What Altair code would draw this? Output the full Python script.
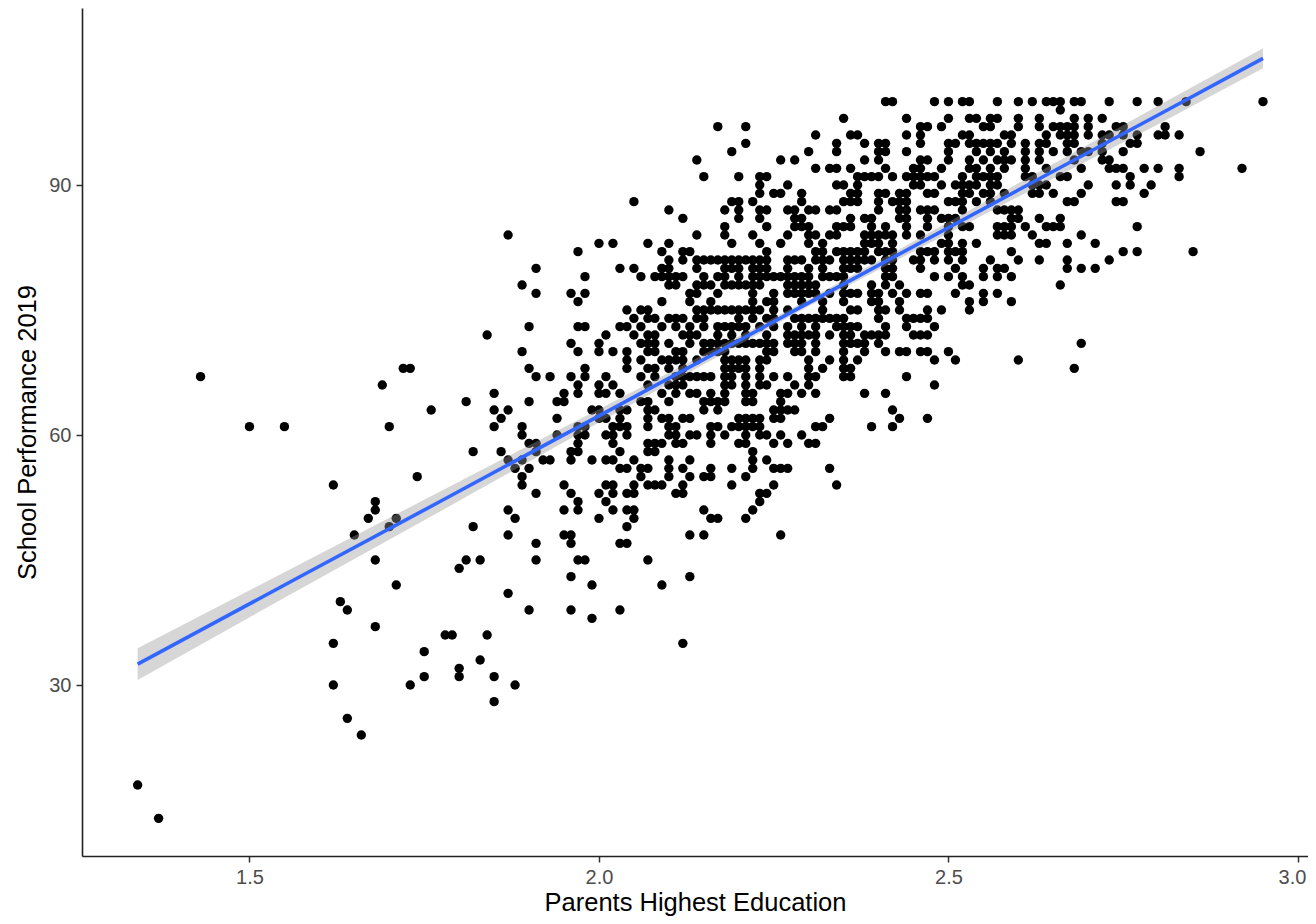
import altair as alt
import pandas as pd

# Parents' education (x 100) of the schools at each School Performance score
score_100 = [241,242,248,250,252,253,257,260,262,264,265,266,268,269,273,277,280,284,295]
score_99 = [266]
score_98 = [235,244,250,253,254,256,257,260,263,268,270,272]
score_97 = [217,221,246,247,249,255,256,260,263,265,266,267,268,270,274,275,281]
score_96 = [231,236,237,244,246,252,253,258,259,264,266,267,268,270,272,273,275,277,280,281,283]
score_95 = [221,234,238,240,241,246,250,251,253,254,255,256,257,259,261,263,264,267,268,272,276,277]
score_94 = [219,230,234,240,241,244,250,254,256,258,261,263,265,267,269,270,272,275,286]
score_93 = [214,226,228,238,240,246,247,250,253,255,257,258,259,261,263,268,272,273]
score_92 = [231,233,234,236,241,245,246,249,253,254,256,258,261,264,269,273,274,275,278,280,283,292]
score_91 = [215,220,223,224,237,238,239,240,242,244,245,246,247,248,252,254,255,256,257,261,262,266,267,276,283]
score_90 = [223,227,234,235,237,245,246,249,251,252,253,254,256,257,262,263,264,270,274,276,279]
score_89 = [223,225,226,229,236,237,240,241,243,244,247,248,252,253,255,256,258,262,263,265,269,278]
score_88 = [205,219,220,222,229,235,236,237,240,242,243,244,250,251,252,254,256,267,268,274,275]
score_87 = [210,218,220,223,224,227,228,230,231,233,234,240,243,244,246,247,248,252,257,258,259,260]
score_86 = [212,220,223,228,229,236,238,239,243,244,247,249,250,251,259,260,263,266]
score_85 = [218,224,228,229,230,234,235,236,239,241,244,247,250,252,253,257,258,259,261,264,265,266,277]
score_84 = [187,214,218,222,227,230,231,233,234,238,239,240,241,242,244,246,250,257,258,259,262,269]
score_83 = [200,202,207,210,219,223,226,230,232,238,239,240,242,249,250,252,254,263,264,267,271]
score_82 = [197,209,212,213,224,231,232,234,235,236,237,238,240,241,242,246,247,248,250,251,252,259,275,277,285]
score_81 = [210,212,214,215,216,217,218,219,220,221,222,223,224,227,228,229,231,232,233,235,236,237,238,239,241,242,245,246,248,250,252,256,260,263,267,273]
score_80 = [191,203,205,209,210,214,218,219,220,222,223,224,227,230,232,235,236,237,241,242,246,251,255,257,258,267,269,271]
score_79 = [198,206,208,209,210,211,212,215,217,218,220,222,223,224,225,226,227,228,229,230,232,233,234,235,241,242,248,250,252,255,257,259]
score_78 = [189,210,211,214,215,216,218,219,220,221,222,223,227,228,229,230,231,235,239,241,243,252,253,266]
score_77 = [191,196,198,213,214,217,222,225,227,228,229,230,231,233,235,236,237,239,240,242,244,246,247,251,255,257]
score_76 = [197,209,213,216,222,224,225,229,232,235,239,240,243,253,255,259]
score_75 = [204,206,207,214,215,216,217,218,219,220,221,222,223,225,227,232,236,237,240,241,243,247,249,253]
score_74 = [205,207,208,210,211,212,214,215,220,222,224,225,228,229,230,231,232,233,234,235,240,244,245,246,247]
score_73 = [190,197,198,203,204,206,209,211,213,215,217,218,219,220,221,223,225,227,229,231,234,235,236,237,241,244,248]
score_72 = [184,201,205,207,208,212,213,214,217,219,221,224,227,228,229,230,231,233,235,236,238,239,240,241,245,246,247]
score_71 = [196,200,206,207,208,210,213,215,216,217,218,219,220,221,222,223,224,225,227,228,229,231,235,236,237,238,240,269]
score_70 = [189,197,200,202,204,207,208,211,212,215,216,217,218,224,225,228,229,231,235,238,241,243,244,246,247,250]
score_69 = [204,206,209,210,211,212,214,218,219,220,221,223,224,230,233,235,237,248,251,260]
score_68 = [172,173,190,198,204,207,208,210,212,218,219,220,221,223,230,232,235,236,268]
score_67 = [143,191,193,196,198,201,206,208,211,212,213,214,215,216,218,219,221,223,225,227,230,231,235,236,244]
score_66 = [169,197,200,202,207,210,211,212,218,219,221,223,224,228,230,248]
score_65 = [185,195,197,200,201,203,209,211,213,214,216,218,221,222,226,227,229,231,238,241]
score_64 = [181,190,194,195,206,207,210,215,216,217,218,221,222,226]
score_63 = [176,185,187,199,200,203,204,207,208,215,217,225,226,227,228,242]
score_62 = [186,194,200,201,203,207,209,210,212,213,220,221,222,223,225,226,233,243,247]
score_61 = [150,155,170,185,189,197,198,202,203,204,207,210,211,216,217,219,220,221,222,223,231,232,239,242]
score_60 = [189,194,197,198,201,202,204,210,211,213,214,216,218,221,223,224,226,229]
score_59 = [190,191,197,202,207,208,209,211,212,216,220,221,225,227,230,231]
score_58 = [182,186,191,196,197,203,207,208,222]
score_57 = [187,189,192,193,196,199,201,202,205,210,213,222,224]
score_56 = [188,190,203,204,206,207,210,212,216,219,222,225,226,227,233]
score_55 = [174,189,206,210,213,215,216,221]
score_54 = [162,189,195,201,202,205,207,208,209,212,219,225,234]
score_53 = [191,196,200,202,204,205,211,212,223,224]
score_52 = [168,197,201,223]
score_51 = [168,187,195,197,202,204,205,215,222]
score_50 = [167,171,188,200,205,216,217,221]
score_49 = [170,182,204]
score_48 = [165,187,195,196,213,215,226]
score_47 = [191,196,203,204]
score_45 = [168,181,183,191,197,198,207]
score_44 = [180]
score_43 = [196,213]
score_42 = [171,199,209]
score_41 = [187]
score_40 = [163]
score_39 = [164,190,196,203]
score_38 = [199]
score_37 = [168]
score_36 = [178,179,184]
score_35 = [162,212]
score_34 = [175]
score_33 = [183]
score_32 = [180]
score_31 = [175,180,185]
score_30 = [162,173,188]
score_28 = [185]
score_26 = [164]
score_24 = [166]
score_18 = [134]
score_14 = [137]

# Fitted line and its confidence band
fit_x = [1.34, 1.57, 1.77, 2.0, 2.29, 2.6, 2.8, 2.95]
fit_y = [32.5, 42.9, 51.9, 62.3, 75.4, 89.4, 98.4, 105.2]
fit_lo = [30.6, 41.4, 50.7, 61.5, 75.0, 88.6, 97.3, 104.0]
fit_hi = [34.4, 44.4, 53.1, 63.1, 75.8, 90.2, 99.5, 106.4]

x_ticks = [1.5, 2.0, 2.5, 3.0]
y_ticks = [30, 60, 90]

rows = []
for name, values in list(globals().items()):
    if name.startswith("score_"):
        score = int(name.split("_")[1])
        rows += [{"edu": v / 100, "score": score} for v in values]
points = pd.DataFrame(rows)
fit = pd.DataFrame({"edu": fit_x, "fit": fit_y, "lo": fit_lo, "hi": fit_hi})

x_scale = alt.Scale(domain=[1.2604, 3.0144], nice=False, zero=False)
y_scale = alt.Scale(domain=[9.48, 111.24], nice=False, zero=False)
x_enc = alt.X("edu:Q", scale=x_scale, title="Parents Highest Education",
              axis=alt.Axis(values=x_ticks, format=".1f", grid=False,
                            labelOffset=alt.expr("datum.value == 3 ? -6 : 0")))
y_enc = alt.Y("score:Q", scale=y_scale, title="School Performance 2019",
              axis=alt.Axis(values=y_ticks, grid=False))

scatter = alt.Chart(points).mark_circle(size=88, color="black", opacity=1).encode(x=x_enc, y=y_enc)
band = alt.Chart(fit).mark_area(color="#999999", opacity=0.4).encode(
    x=alt.X("edu:Q", scale=x_scale),
    y=alt.Y("lo:Q", scale=y_scale),
    y2="hi:Q",
)
line = alt.Chart(fit).mark_line(color="#3366FF", strokeWidth=3.6).encode(
    x=alt.X("edu:Q", scale=x_scale),
    y=alt.Y("fit:Q", scale=y_scale),
)

chart = (
    alt.layer(scatter, band, line)
    .properties(
        width=1226, height=848,
        autosize=alt.AutoSizeParams(type="none"),
        padding={"left": 74, "top": 0, "right": 0, "bottom": 60},
    )
    .configure_view(stroke=None)
    .configure_axis(
        domainColor="#222222", domainWidth=1.6,
        tickColor="#333333", tickWidth=1.5, tickSize=6,
        labelColor="#4D4D4D", labelFont="Liberation Sans", labelFontSize=20, labelPadding=5,
        titleColor="#000000", titleFont="Liberation Sans", titleFontSize=25.5, titleFontWeight="normal",
    )
    .configure_axisX(titlePadding=3)
    .configure_axisY(titlePadding=8)
)
chart.save("out.html", embed_options={"renderer": "svg", "actions": False})
